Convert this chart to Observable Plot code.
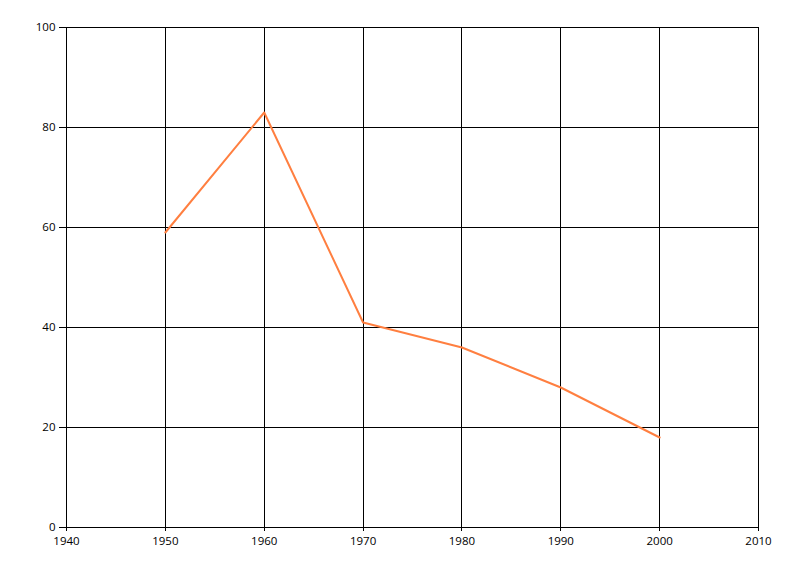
<!DOCTYPE html>
<html>
<head>
<meta charset="utf-8">
<script src="https://cdn.jsdelivr.net/npm/d3@7"></script>
<script src="https://cdn.jsdelivr.net/npm/@observablehq/plot@0.6"></script>
<style>
  html, body { margin: 0; padding: 0; background: #fff; }
  #chart svg { display: block; }
</style>
</head>
<body>
<div id="chart"></div>
<script>
const years = [1950, 1960, 1970, 1980, 1990, 2000];
const values = [59, 83, 41, 36, 28, 18];
const xTicks = [1940, 1950, 1960, 1970, 1980, 1990, 2000, 2010];
const yTicks = [0, 20, 40, 60, 80, 100];

const data = years.map((y, i) => ({year: y, value: values[i]}));

const chart = Plot.plot({
  width: 800,
  height: 576,
  marginLeft: 66,
  marginRight: 42,
  marginTop: 27,
  marginBottom: 49,
  style: {fontFamily: "'Open Sans', 'DejaVu Sans', sans-serif", fontSize: "11.5px", color: "#000", background: "#fff"},
  x: {domain: [1940, 2010], label: null},
  y: {domain: [0, 100], label: null},
  marks: [
    Plot.ruleX(xTicks, {stroke: "#000", strokeWidth: 1, shapeRendering: "crispEdges"}),
    Plot.ruleY(yTicks, {stroke: "#000", strokeWidth: 1, shapeRendering: "crispEdges"}),
    Plot.line(data, {x: "year", y: "value", stroke: "#ff7f40", strokeWidth: 2}),
    Plot.axisX({ticks: xTicks, tickFormat: d => String(d), tickSize: 4, tickPadding: 5, stroke: "#000", fill: "#000", shapeRendering: "crispEdges"}),
    Plot.axisY({ticks: yTicks, tickSize: 7, tickPadding: 4, stroke: "#000", fill: "#000", shapeRendering: "crispEdges"})
  ]
});
document.getElementById("chart").appendChild(chart);
</script>
</body>
</html>
